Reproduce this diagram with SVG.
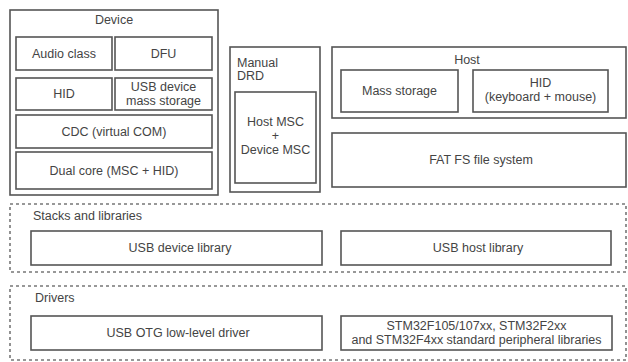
<svg xmlns="http://www.w3.org/2000/svg" width="628" height="362" viewBox="0 0 628 362">
<style>
.b{fill:#fff;stroke:#555;stroke-width:1.6}
.d{fill:none;stroke:#777;stroke-width:1.6;stroke-dasharray:3 3}
text{font-family:"Liberation Sans",Arial,sans-serif;font-size:12.5px;fill:#444}
.c{text-anchor:middle}
</style>
<rect width="628" height="362" fill="#fff"/>
<g id="device">
<rect class="b" x="10" y="10" width="208" height="185"/>
<text class="c" x="114" y="24">Device</text>
</g>
<g id="audio"><rect class="b" x="16" y="37" width="96" height="33"/><text class="c" x="64" y="58">Audio class</text></g>
<g id="dfu"><rect class="b" x="115" y="37" width="97" height="33"/><text class="c" x="163.5" y="58">DFU</text></g>
<g id="hid-dev"><rect class="b" x="16" y="78" width="96" height="32"/><text class="c" x="64" y="98">HID</text></g>
<g id="msc-dev"><rect class="b" x="115" y="78" width="97" height="32"/><text class="c" x="163.5" y="91">USB device</text><text class="c" x="163.5" y="105">mass storage</text></g>
<g id="cdc"><rect class="b" x="16" y="115" width="196" height="33"/><text class="c" x="114" y="136">CDC (virtual COM)</text></g>
<g id="dual"><rect class="b" x="16" y="152" width="196" height="37"/><text class="c" x="114" y="175">Dual core (MSC + HID)</text></g>
<g id="drd">
<rect class="b" x="230" y="47" width="90" height="145"/>
<text x="237" y="67">Manual</text><text x="237" y="80">DRD</text>
</g>
<g id="drd-inner"><rect class="b" x="235" y="92" width="81" height="91"/>
<text class="c" x="275.5" y="126">Host MSC</text><text class="c" x="275.5" y="140">+</text><text class="c" x="275.5" y="154">Device MSC</text></g>
<g id="host">
<rect class="b" x="332" y="47" width="294" height="71"/>
<text class="c" x="467" y="64">Host</text>
</g>
<g id="mass"><rect class="b" x="341" y="70" width="117" height="42"/><text class="c" x="399.5" y="95">Mass storage</text></g>
<g id="hid-host"><rect class="b" x="473" y="70" width="135" height="42"/><text class="c" x="540.5" y="87">HID</text><text class="c" x="540.5" y="101">(keyboard + mouse)</text></g>
<g id="fatfs"><rect class="b" x="332" y="133" width="294" height="54"/><text class="c" x="481" y="164">FAT FS file system</text></g>
<g id="stacks">
<rect class="d" x="10" y="204" width="616" height="68"/>
<text x="33" y="220">Stacks and libraries</text>
</g>
<g id="devlib"><rect class="b" x="31" y="231" width="291" height="34"/><text class="c" x="180" y="252">USB device library</text></g>
<g id="hostlib"><rect class="b" x="341" y="231" width="270" height="34"/><text class="c" x="478" y="252">USB host library</text></g>
<g id="drivers">
<rect class="d" x="10" y="286" width="616" height="74"/>
<text x="35" y="302">Drivers</text>
</g>
<g id="otg"><rect class="b" x="31" y="316" width="291" height="34"/><text class="c" x="178" y="337">USB OTG low-level driver</text></g>
<g id="stm"><rect class="b" x="341" y="316" width="271" height="34"/><text class="c" x="476.5" y="330">STM32F105/107xx, STM32F2xx</text><text class="c" x="476.5" y="344">and STM32F4xx standard peripheral libraries</text></g>
<g id="connectors"></g>
</svg>
